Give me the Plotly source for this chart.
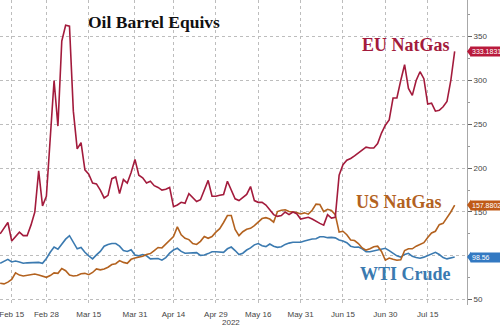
import pandas as pd
import plotly.graph_objects as go

dates = pd.bdate_range("2022-02-10", "2022-07-26")

eu_natgas = [125, 132, 138, 117, 122, 127, 123, 123, 135, 150,
             197, 157, 168, 240, 300, 248, 345, 363, 362, 265,
             222, 229, 198, 193, 183, 182, 175, 166, 169, 188,
             190, 171, 187, 183, 195, 210, 192, 189, 183, 185,
             180, 178, 175, 176, 178, 156, 158, 161, 160, 171,
             166, 162, 164, 175, 186, 168, 168, 169, 170, 185,
             175, 165, 163, 166, 170, 179, 163, 161, 161, 158,
             153, 147, 145, 146, 150, 147, 150, 148, 142, 143,
             144, 142, 139, 137, 135, 147, 143, 144, 192, 204,
             209, 211, 214, 217, 220, 224, 223, 223, 228, 240,
             249, 255, 280, 280, 300, 318, 291, 283, 300, 310,
             302, 273, 274, 265, 266, 270, 276, 300, 333.1831]

us_natgas = [68.7, 68, 70, 73, 80.5, 78, 77, 77.5, 78.2, 79.3,
             78, 77, 75.5, 77.5, 80.5, 80, 85.5, 83, 78, 77,
             77.5, 79.5, 80, 78.5, 81, 85, 84, 85, 87, 90,
             91, 94.5, 92.5, 91.5, 96, 97.5, 98.5, 99.5, 101.5, 102.5,
             106, 109.5, 109, 113.5, 117, 122, 133, 124, 120, 118.5,
             114, 113, 116.5, 122, 120, 122, 127, 131, 138, 146,
             146, 130, 123, 127.5, 130.3, 131.4, 134.5, 138.5, 142.5, 143.5,
             142, 138.5, 150.5, 152, 152.5, 150.5, 150.3, 149.5, 147.8, 149,
             147.5, 152, 159, 158.5, 150.5, 153, 151.7, 147, 127, 128,
             124, 118, 117.4, 114, 109, 106.5, 108, 110.4, 111, 105,
             95, 97.5, 96, 95, 95.5, 106, 108, 108, 111, 113,
             115, 121, 126, 128, 135.5, 137, 143, 150, 157.8802]

wti_crude = [91.5, 94, 96, 93, 94, 93, 91.5, 92, 92, 92.5,
             92.5, 91.5, 97, 104, 110, 107.5, 114, 119, 123, 116,
             108, 109.5, 104, 100, 96.5, 101, 105, 111, 113, 114,
             114, 111, 106, 105, 107, 101, 100, 101.5, 100, 96.5,
             96.5, 97, 95, 98, 103, 106.6, 108.6, 105, 103, 103,
             103, 103.6, 100.5, 101, 102.5, 104.7, 104.7, 104, 104, 108,
             110, 106, 101.5, 103, 106.6, 109, 112.5, 114, 111.5, 110.5,
             113.5, 111, 109.7, 110.4, 113, 114.5, 115.4, 115.4, 115.5, 117,
             118.5, 119.2, 119.5, 121.8, 121.8, 120.7, 121, 120.5, 118, 117,
             115, 111, 109.8, 110, 108, 104.7, 104.7, 105.5, 106.4, 107.5,
             108.6, 106, 103, 100, 98.5, 101.6, 102.9, 99.4, 98, 97.2,
             98.5, 100.5, 102.5, 104, 101.5, 98, 96.5, 97.5, 98.56]

tick_dates = ["2022-02-15", "2022-02-28", "2022-03-15", "2022-03-31", "2022-04-14",
              "2022-04-29", "2022-05-16", "2022-05-31", "2022-06-15", "2022-06-30",
              "2022-07-15"]
tick_labels = ["Feb 15", "Feb 28", "Mar 15", "Mar 31", "Apr 14", "Apr 29",
               "May 16", "May 31", "Jun 15", "Jun 30", "Jul 15"]
y_ticks = [50, 100, 150, 200, 250, 300, 350]

# trading-day axis (weekdays only): position = weekday index
x_idx = list(range(len(dates)))
date_list = list(dates)
tick_pos = [date_list.index(pd.Timestamp(d)) for d in tick_dates]
year_pos = date_list.index(pd.Timestamp("2022-05-05"))
date_txt = [d.strftime("%b %d, %Y") for d in dates]

EU_C = "#a31b3c"
US_C = "#b3621f"
WTI_C = "#3b7ab0"

fig = go.Figure()
for vals, col, name in [(wti_crude, WTI_C, "WTI Crude"),
                        (us_natgas, US_C, "US NatGas"),
                        (eu_natgas, EU_C, "EU NatGas")]:
    fig.add_trace(go.Scatter(x=x_idx, y=vals, mode="lines", name=name,
                             customdata=date_txt,
                             hovertemplate="%{customdata}: %{y}<extra>" + name + "</extra>",
                             line=dict(color=col, width=1.6), showlegend=False))

fig.update_layout(
    width=500, height=326,
    margin=dict(l=0, r=33, t=0, b=21),
    paper_bgcolor="white", plot_bgcolor="white",
    font=dict(family="Liberation Sans, Arial", size=8, color="#444"),
    xaxis=dict(
        range=[-0.04, 121.2],
        tickmode="array", tickvals=tick_pos, ticktext=tick_labels,
        showgrid=True, gridcolor="#bdbdbd", griddash="dot", gridwidth=1,
        showline=False, zeroline=False, ticks="",
        ticklabelstandoff=3, ticklabeloverflow="allow",
        tickfont=dict(size=8, color="#444"),
    ),
    yaxis=dict(
        side="right",
        range=[43.9, 391.8],
        tickvals=y_ticks,
        showgrid=True, gridcolor="#bdbdbd", griddash="dot", gridwidth=1,
        showline=True, linecolor="#a8a8a8", linewidth=1,
        ticks="outside", ticklen=4, tickcolor="#666",
        minor=dict(dtick=25, ticks="outside", ticklen=2, tickcolor="#999", showgrid=False),
        zeroline=False,
        tickfont=dict(size=8, color="#444"),
    ),
)

serif = "Liberation Serif, Times New Roman, serif"
fig.add_annotation(xref="paper", yref="y", x=0.33, y=366.5, xanchor="center",
                   text="<b>Oil Barrel Equivs</b>", showarrow=False,
                   font=dict(family=serif, size=17.5, color="#111"))
fig.add_annotation(xref="paper", yref="y", x=0.968, y=340.5, xanchor="right",
                   text="<b>EU NatGas</b>", showarrow=False,
                   font=dict(family=serif, size=18, color=EU_C))
fig.add_annotation(xref="paper", yref="y", x=0.951, y=161.4, xanchor="right",
                   text="<b>US NatGas</b>", showarrow=False,
                   font=dict(family=serif, size=18, color=US_C))
fig.add_annotation(xref="paper", yref="y", x=0.970, y=79.6, xanchor="right",
                   text="<b>WTI Crude</b>", showarrow=False,
                   font=dict(family=serif, size=18, color=WTI_C))

# last-value boxes
for val, col, txt in [(eu_natgas[-1], "#b91a3c", "333.1831"),
                      (us_natgas[-1], "#c05a17", "157.8802"),
                      (wti_crude[-1], "#3379c2", "98.56")]:
    fig.add_annotation(xref="paper", yref="y", x=1.0, y=val, xanchor="left", xshift=3,
                       text=txt, showarrow=False, bgcolor=col, borderpad=1,
                       width=29, align="left",
                       font=dict(size=7, color="white"))
    fig.add_shape(type="path", xref="paper", yref="y",
                  path=f"M 1.0 {val} L 1.0085 {val+6} L 1.0085 {val-6} Z",
                  fillcolor=col, line=dict(width=0), layer="above")

fig.add_annotation(xref="x", yref="paper", x=year_pos, y=0, yanchor="top", yshift=-11,
                   text="2022", showarrow=False, font=dict(size=8, color="#444"))

fig.write_html("out.html")
